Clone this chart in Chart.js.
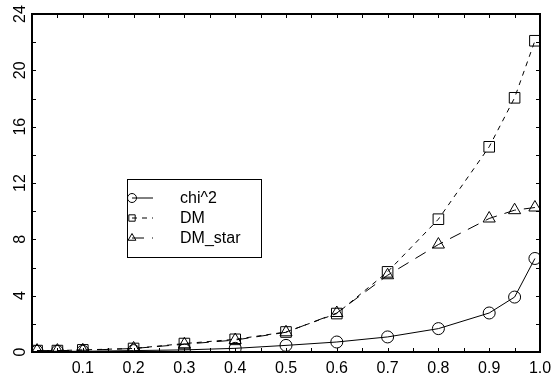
<!DOCTYPE html>
<html>
<head>
<meta charset="utf-8">
<script src="https://cdn.jsdelivr.net/npm/chart.js@4.4.1/dist/chart.umd.min.js"></script>
<style>
  body { margin: 0; background: #fff; }
  #wrap { width: 560px; height: 381px; }
</style>
</head>
<body>
<div id="wrap"><canvas id="plot" width="560" height="381"></canvas></div>
<script>
// data
const xValues = [0.01, 0.05, 0.1, 0.2, 0.3, 0.4, 0.5, 0.6, 0.7, 0.8, 0.9, 0.95, 0.99];
const chiValues = [0.05, 0.05, 0.05, 0.1, 0.15, 0.26, 0.47, 0.71, 1.07, 1.66, 2.77, 3.9, 6.64];
const dmValues = [0.1, 0.1, 0.15, 0.25, 0.6, 0.9, 1.42, 2.73, 5.69, 9.43, 14.57, 18.05, 22.1];
const dmStarValues = [0.1, 0.1, 0.12, 0.25, 0.55, 0.85, 1.4, 2.77, 5.45, 7.63, 9.48, 10.07, 10.26];
const seriesNames = ['chi^2', 'DM', 'DM_star'];
const yTickLabels = [0, 4, 8, 12, 16, 20, 24];

const FONT = '"Liberation Sans", Arial, sans-serif';

function pts(ys) {
  return xValues.map((x, i) => ({ x: x, y: ys[i] }));
}

// frame, inward ticks, rotated y labels and the boxed legend
const framePlugin = {
  id: 'framePlugin',
  afterDraw(chart) {
    const ctx = chart.ctx;
    const a = chart.chartArea;
    const xs = chart.scales.x;
    const ys = chart.scales.y;
    ctx.save();
    ctx.strokeStyle = '#000';
    ctx.lineWidth = 2;
    ctx.strokeRect(a.left, a.top, a.right - a.left, a.bottom - a.top);

    ctx.lineWidth = 1;
    ctx.beginPath();
    xs.ticks.forEach(t => {
      const px = Math.round(xs.getPixelForValue(t.value)) + 0.5;
      ctx.moveTo(px, a.bottom); ctx.lineTo(px, a.bottom - 4);
      ctx.moveTo(px, a.top); ctx.lineTo(px, a.top + 4);
    });
    ys.ticks.forEach(t => {
      const py = Math.round(ys.getPixelForValue(t.value)) + 0.5;
      ctx.moveTo(a.left, py); ctx.lineTo(a.left + 4, py);
      ctx.moveTo(a.right, py); ctx.lineTo(a.right - 4, py);
    });
    ctx.stroke();

    // y labels, rotated to read upwards
    ctx.fillStyle = '#000';
    ctx.font = '16px ' + FONT;
    ctx.textAlign = 'center';
    ctx.textBaseline = 'middle';
    yTickLabels.forEach(v => {
      const py = ys.getPixelForValue(v);
      ctx.save();
      ctx.translate(21, py);
      ctx.rotate(-Math.PI / 2);
      ctx.fillText(String(v), 0, 0);
      ctx.restore();
    });

    // legend box
    const box = { x: 127.5, y: 179.5, w: 134, h: 78 };
    ctx.lineWidth = 1;
    ctx.strokeRect(box.x, box.y, box.w, box.h);
    const rows = [198, 218, 238];
    chart.data.datasets.forEach((ds, i) => {
      const y = rows[i];
      ctx.beginPath();
      ctx.setLineDash(ds.borderDash || []);
      ctx.moveTo(132, y); ctx.lineTo(153, y);
      ctx.stroke();
      ctx.setLineDash([]);
      ctx.fillStyle = 'rgba(0,0,0,0)';
      Chart.helpers.drawPoint(ctx, { pointStyle: ds.pointStyle, radius: 4.5, borderWidth: 1 }, 132, y);
      ctx.fillStyle = '#000';
      ctx.textAlign = 'left';
      ctx.fillText(ds.label, 180, y + 1);
    });
    ctx.restore();
  }
};

const chart = new Chart(document.getElementById('plot'), {
  type: 'scatter',
  data: {
    datasets: [
      {
        label: seriesNames[0],
        data: pts(chiValues),
        showLine: true,
        borderColor: '#000',
        borderWidth: 1,
        pointStyle: 'circle',
        pointRadius: 6,
        pointBorderWidth: 1,
        pointBackgroundColor: 'rgba(0,0,0,0)',
        pointBorderColor: '#000'
      },
      {
        label: seriesNames[1],
        data: pts(dmValues),
        showLine: true,
        borderColor: '#000',
        borderWidth: 1,
        borderDash: [5, 5],
        pointStyle: 'rect',
        pointRadius: 7.5,
        pointBorderWidth: 1,
        pointBackgroundColor: 'rgba(0,0,0,0)',
        pointBorderColor: '#000'
      },
      {
        label: seriesNames[2],
        data: pts(dmStarValues),
        showLine: true,
        borderColor: '#000',
        borderWidth: 1,
        borderDash: [12, 8],
        pointStyle: 'triangle',
        pointRadius: 7,
        pointBorderWidth: 1,
        pointBackgroundColor: 'rgba(0,0,0,0)',
        pointBorderColor: '#000'
      }
    ]
  },
  options: {
    responsive: false,
    animation: false,
    layout: { padding: { top: 14, right: 20, left: 0, bottom: 0 } },
    plugins: {
      legend: { display: false },
      tooltip: { enabled: false }
    },
    scales: {
      x: {
        type: 'linear',
        min: 0,
        max: 1,
        grid: { display: false, drawTicks: false },
        border: { display: false },
        afterFit: s => { s.height = 29; },
        ticks: {
          stepSize: 0.05,
          autoSkip: false,
          maxRotation: 0,
          padding: 7,
          color: '#000',
          font: { family: FONT, size: 16 },
          callback: v => {
            const r = Math.round(v * 10);
            return (v > 0 && Math.abs(v * 10 - r) < 1e-6) ? (r / 10).toFixed(1) : '';
          }
        }
      },
      y: {
        type: 'linear',
        min: 0,
        max: 24,
        grid: { display: false, drawTicks: false },
        border: { display: false },
        afterFit: s => { s.width = 32; },
        ticks: { stepSize: 2, display: false }
      }
    }
  },
  plugins: [framePlugin]
});
</script>
</body>
</html>
